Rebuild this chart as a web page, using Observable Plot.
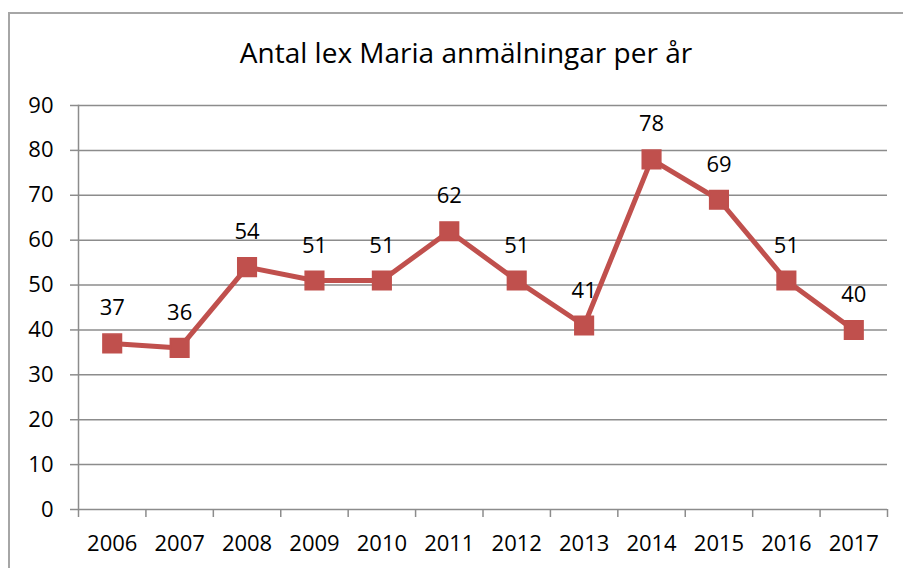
<!DOCTYPE html>
<html>
<head>
<meta charset="utf-8">
<script src="https://cdn.jsdelivr.net/npm/d3@7"></script>
<script src="https://cdn.jsdelivr.net/npm/@observablehq/plot@0.6"></script>
<style>
  html, body { margin: 0; padding: 0; background: #fff; overflow: hidden; }
  #wrap { position: relative; width: 903px; height: 568px; overflow: hidden; font-family: "Open Sans", sans-serif; }
  #border { position: absolute; left: 8px; top: 12px; width: 1000px; height: 1000px; border: 2px solid #a6a6a6; box-sizing: border-box; }
  #title { position: absolute; left: 0; width: 932px; top: 34px; text-align: center; font-size: 28px; color: #000; line-height: 36px; }
  #chart { position: absolute; left: 0; top: 0; }
</style>
</head>
<body>
<div id="wrap">
  <div id="border"></div>
  <div id="title">Antal lex Maria anmälningar per år</div>
  <div id="chart"></div>
</div>
<script>
const years = [2006, 2007, 2008, 2009, 2010, 2011, 2012, 2013, 2014, 2015, 2016, 2017];
const reports = [37, 36, 54, 51, 51, 62, 51, 41, 78, 69, 51, 40];
const yTicks = [0, 10, 20, 30, 40, 50, 60, 70, 80, 90];
const color = "#C0504D";

const data = years.map((y, i) => ({year: y, value: reports[i]}));
const boundaries = [...years.map(y => y - 0.5), years[years.length - 1] + 0.5];

const chart = Plot.plot({
  width: 903,
  height: 568,
  marginLeft: 78,
  marginRight: 16,
  marginTop: 105,
  marginBottom: 59,
  style: {fontFamily: "Open Sans, sans-serif", fontSize: "22px", color: "#000", background: "transparent", overflow: "visible"},
  x: {domain: [years[0] - 0.5, years[years.length - 1] + 0.5]},
  y: {domain: [0, 90]},
  marks: [
    Plot.ruleY(yTicks, {stroke: "#8c8c8c", strokeWidth: 1.5}),
    Plot.frame({anchor: "left", stroke: "#8c8c8c", strokeWidth: 1.5}),
    Plot.axisY({ticks: yTicks, tickSize: 8, tickPadding: 17, stroke: "#8c8c8c", strokeWidth: 1.5, fill: "#000", fontSize: 22, label: null}),
    Plot.axisX({ticks: boundaries, tickSize: 8, tickFormat: () => "", stroke: "#8c8c8c", strokeWidth: 1.5, label: null}),
    Plot.axisX({ticks: years, tickSize: 0, tickPadding: 26, tickFormat: d => String(d), fill: "#000", fontSize: 22, label: null}),
    Plot.line(data, {x: "year", y: "value", stroke: color, strokeWidth: 5}),
    Plot.dot(data, {x: "year", y: "value", symbol: "square", r: 10.5, fill: color, stroke: color}),
    Plot.text(data, {x: "year", y: "value", text: d => String(d.value), dy: -35, fill: "#000", fontSize: 22})
  ]
});
document.getElementById("chart").appendChild(chart);
</script>
</body>
</html>
